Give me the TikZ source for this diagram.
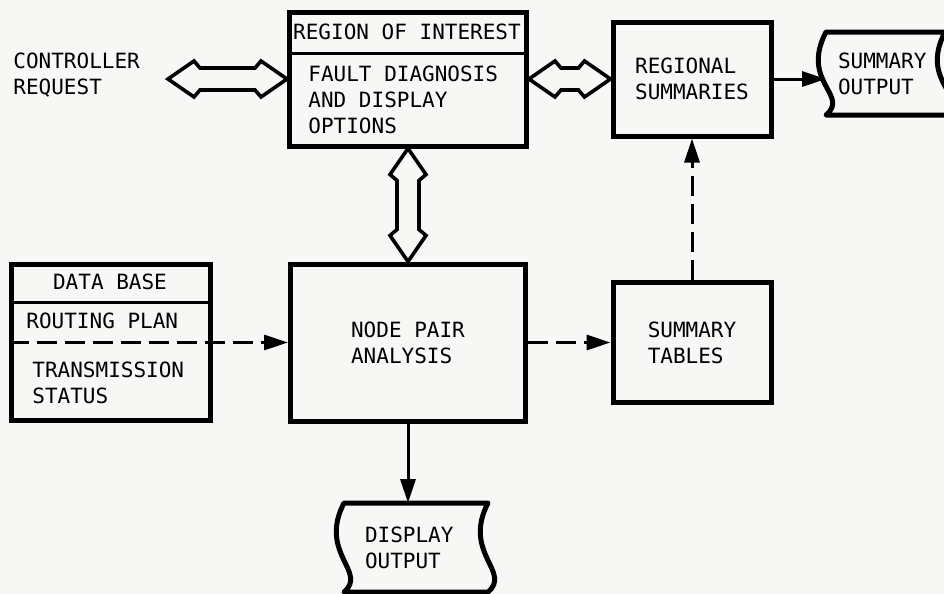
\documentclass[tikz,border=0pt]{standalone}
\usepackage{fontspec}
\usepackage{xcolor}
\usepackage{tikz}
\usetikzlibrary{positioning,calc,arrows.meta}
\newfontfamily\gothic{DejaVu Sans Mono}
\newcommand{\diagfont}{\gothic\fontsize{10.5}{13}\selectfont}
\definecolor{paper}{RGB}{247,247,245}

\tikzset{
    block/.style = {rectangle, draw=black, line width=2.5pt, align=left, inner sep=0pt, font=\diagfont},
    txt/.style = {inner sep=0pt, align=left, font=\diagfont},
    doc/.style = {rectangle, inner xsep=6pt, inner ysep=0pt, outer sep=0pt, align=left, font=\diagfont},
    divider/.style = {line width=1.5pt},
    docline/.style = {line width=2.5pt, line join=round},
    hollow/.style = {line width=1.8pt, line join=miter},
    arrow/.style = {line width=1.5pt, -{Triangle[length=12pt,width=7.5pt]}},
    dasharrow/.style = {arrow, dash pattern=on 10pt off 4pt}
}

% hollow two-headed arrow between two points
\newcommand{\hollowarrow}[2]{%
  \coordinate (hh1) at ($(#1)!13pt!(#2)$);
  \coordinate (hh2) at ($(#2)!13pt!(#1)$);
  \coordinate (hs1) at ($(#1)!16pt!(#2)$);
  \coordinate (hs2) at ($(#2)!16pt!(#1)$);
  \draw[hollow] (#1) -- ($(hh1)!9pt!90:(#2)$) -- ($(hs1)!5.5pt!90:(#2)$)
    -- ($(hs2)!5.5pt!-90:(#1)$) -- ($(hh2)!9pt!-90:(#1)$) -- (#2)
    -- ($(hh2)!9pt!90:(#1)$) -- ($(hs2)!5.5pt!90:(#1)$)
    -- ($(hs1)!5.5pt!-90:(#2)$) -- ($(hh1)!9pt!-90:(#2)$) -- cycle;}

\begin{document}
\begin{tikzpicture}[x=0.5pt, y=-0.5pt]
\fill[paper] (0,0) rectangle (944,594);
\useasboundingbox (0,0) rectangle (944,594);

% top row
\node (creq) [txt, anchor=west] at (13,75) {CONTROLLER\\REQUEST};
\node (roi) [block, minimum width=118.5pt, minimum height=67pt] at (408,79) {};
\node (roititle) [txt] at (407,32) {REGION OF INTEREST};
\node (roibody) [txt, anchor=west] at (308,100) {FAULT DIAGNOSIS\\AND DISPLAY\\OPTIONS};
\node (rs) [block, minimum width=79pt, minimum height=57pt] at (692,79) {REGIONAL\\SUMMARIES};
\node (sumout) [doc, text width=47.5pt, minimum height=41.5pt] at (885.5,73.5) {SUMMARY\\OUTPUT};

% middle row
\node (db) [block, minimum width=99.5pt, minimum height=78pt] at (110.5,342.5) {};
\node (dbtitle) [txt] at (110,282) {DATA BASE};
\node (dbroute) [txt, anchor=west] at (26,321) {ROUTING PLAN};
\node (dbstatus) [txt, anchor=west] at (32,383) {TRANSMISSION\\STATUS};
\node (npa) [block, minimum width=117.5pt, minimum height=78.5pt] at (408,342.5) {NODE PAIR\\ANALYSIS};
\node (st) [block, minimum width=79pt, minimum height=60pt] at (692,342.5) {SUMMARY\\TABLES};

% bottom
\node (dispout) [doc, inner xsep=10.5pt, text width=51pt, minimum height=44.5pt] at (416,547.5) {DISPLAY\\OUTPUT};

% dividers
\coordinate (roisep) at (0,53);
\coordinate (dbsep) at (0,302);
\draw[divider] (roi.west |- roisep) -- (roi.east |- roisep);
\draw[divider] (db.west |- dbsep) -- (db.east |- dbsep);

% output outlines
\draw[docline] (sumout.north west) -- (sumout.north east)
  .. controls +(-26,50) and +(24,-20) .. (sumout.south east)
  -- (sumout.south west) .. controls +(24,-20) and +(-26,50) .. cycle;
\draw[docline] (dispout.north west) -- (dispout.north east)
  .. controls +(-26,50) and +(24,-20) .. (dispout.south east)
  -- (dispout.south west) .. controls +(24,-20) and +(-26,50) .. cycle;

% two-way links
\coordinate (creqtip) at (168,79);
\hollowarrow{creqtip}{roi.west}
\hollowarrow{roi.east}{rs.west}
\hollowarrow{roi.south}{npa.north}

% data flow
\draw[arrow] (rs.east) -- (rs.east -| sumout.west);
\draw[dasharrow] (db.west) -- (npa.west);
\draw[dasharrow] (npa.east) -- (st.west);
\draw[dasharrow] (st.north) -- (rs.south);
\draw[arrow] (npa.south) -- (npa.south |- dispout.north);
\end{tikzpicture}
\end{document}
